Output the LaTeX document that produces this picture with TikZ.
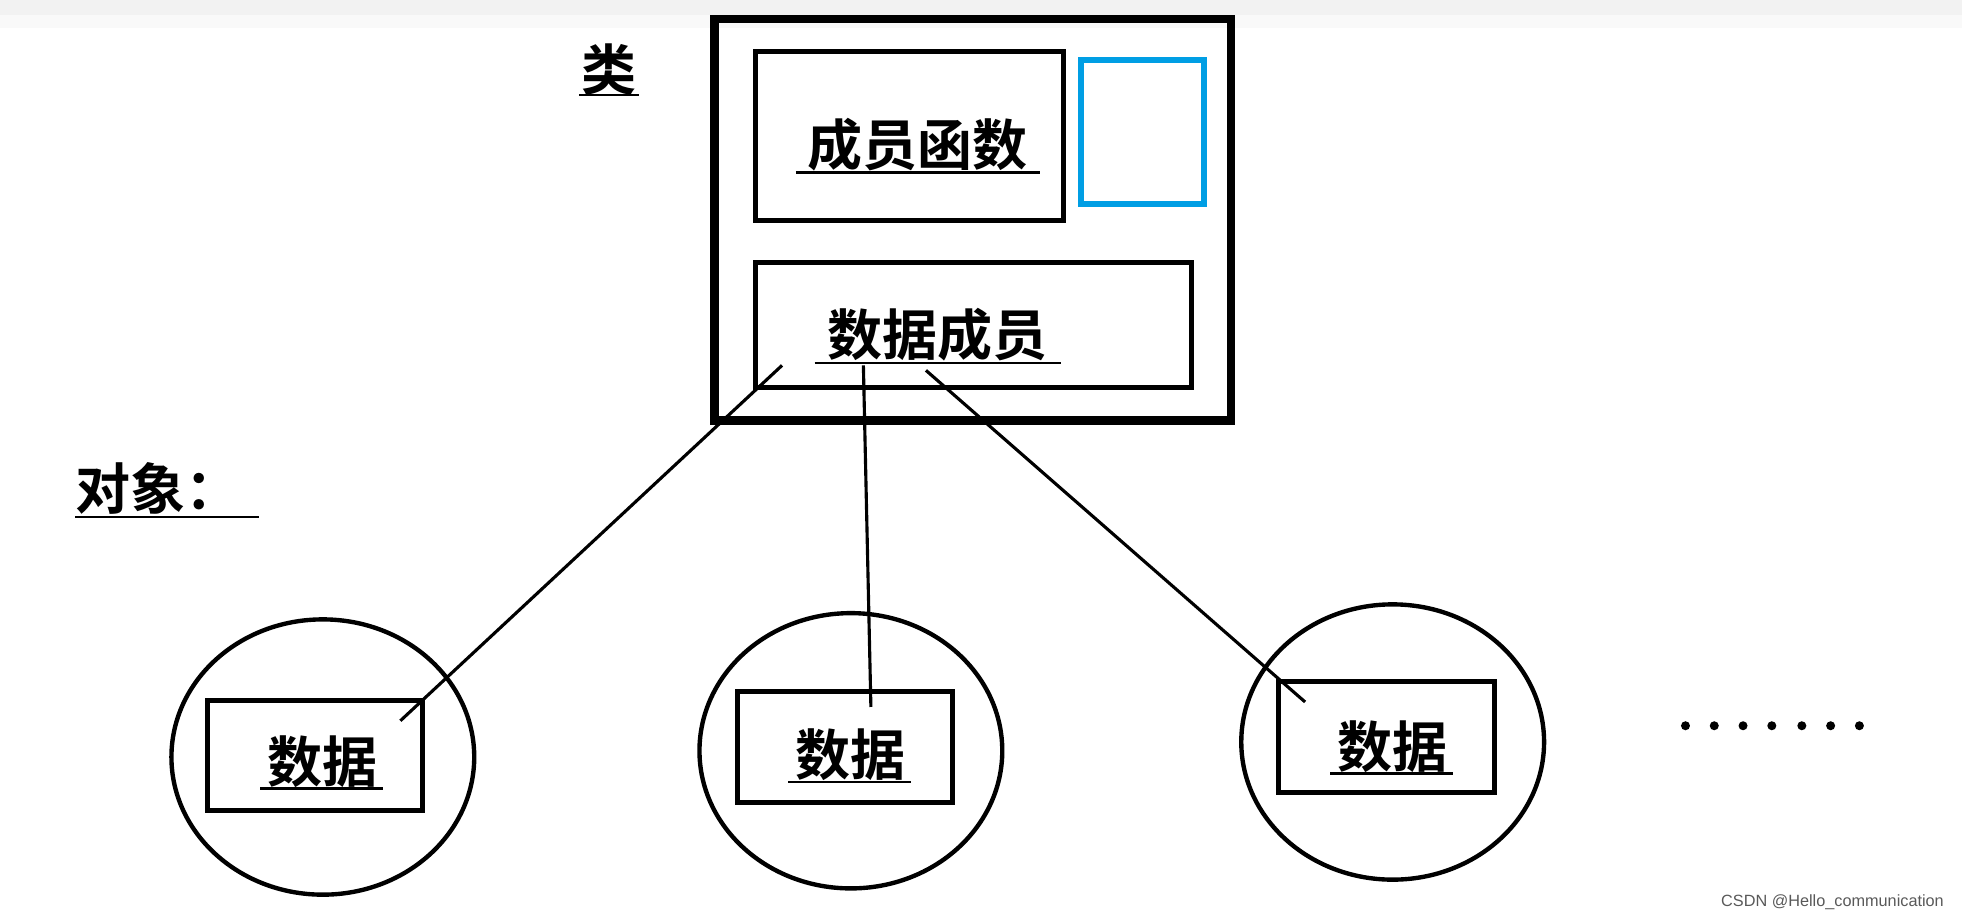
\documentclass[tikz,border=0pt]{standalone}
\usepackage{fontspec}
\newfontfamily\cjk{Noto Sans CJK SC}[BoldFont={Noto Sans CJK SC Bold}]
\setmainfont{Liberation Sans}
\begin{document}
\begin{tikzpicture}[x=1pt,y=-1pt,
  box/.style={draw=black,line width=4pt},
  lbl/.style={font=\cjk\bfseries\fontsize{44}{48}\selectfont,inner sep=0pt,anchor=base},
  ul/.style={line width=2pt},
  conn/.style={line width=2.5pt},
  obj/.style={draw=black,line width=4pt,ellipse}]
\useasboundingbox (0,0) rectangle (1568,736);
\fill[gray!10] (0,0) rectangle (1568,12);
\fill[gray!5] (0,12) rectangle (1568,22);
% class
\draw[line width=6.5pt] (571,15) rectangle (984,336);
\draw[box] (604,41) rectangle (850,176);
\draw[draw={rgb,255:red,0;green,158;blue,228},line width=4.5pt] (864,48) rectangle (962,163);
\draw[box] (604,210) rectangle (952,310);
\node[lbl] (lei) at (487,72) {类};
\draw[ul] (463,76) -- (511,76);
\node[lbl] (fn) at (733,132) {成员函数};
\draw[ul] (636,138) -- (831,138);
\node[lbl,anchor=base west] (dx) at (60,407) {对象：};
\draw[ul] (60,413) -- (207,413);
% objects
\foreach \n/\cx/\cy/\bx/\by in {a/258/605/166/560, b/680/600/589/553, c/1113/593/1022/545}{
  \draw[line width=3.5pt] (\cx,\cy) ellipse [x radius=121, y radius=110];
  \draw[box] (\bx,\by) rectangle ++(172,88);
  \node[lbl] (\n) at (\cx,\cy+20) {数据};
  \draw[ul] (\cx-50,\cy+25) -- (\cx+48,\cy+25);
}
\node[lbl] (dm) at (749,284) {数据成员};
\draw[ul] (651,290) -- (848,290);
\coordinate (s1) at (625,292); \coordinate (e1) at (320,576);
\coordinate (s2) at (690,292); \coordinate (e2) at (696,565);
\coordinate (s3) at (740,296); \coordinate (e3) at (1043,561);
\draw[conn] (s1) -- (e1);
\draw[conn] (s2) -- (e2);
\draw[conn] (s3) -- (e3);
\foreach \x in {1347,1370,1393,1416,1440,1463,1486}{\fill (\x,580) circle (3.6);}
\node[anchor=east,text=gray!70!black,font=\fontsize{13}{15}\selectfont] (wm) at (1557,721) {CSDN @Hello\_communication};
\end{tikzpicture}
\end{document}
